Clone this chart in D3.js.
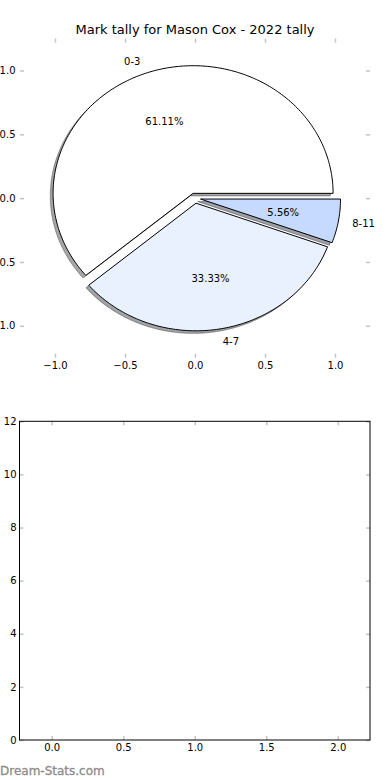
<!DOCTYPE html>
<html>
<head>
<meta charset="utf-8">
<script src="https://cdn.jsdelivr.net/npm/d3@7/dist/d3.min.js"></script>
<style>
  html, body { margin: 0; padding: 0; background: #ffffff; }
  svg { display: block; }
  text { font-family: "DejaVu Sans", sans-serif; }
</style>
</head>
<body>
<script>
// ---------- data ----------
const categories = ["0-3", "4-7", "8-11"];
const values = [11, 6, 1];
const pieTicks = [-1.0, -0.5, 0.0, 0.5, 1.0];
const barXTicks = [0.0, 0.5, 1.0, 1.5, 2.0];
const barYTicks = [0, 2, 4, 6, 8, 10, 12];
const titleText = "Mark tally for Mason Cox - 2022 tally";
const watermark = "Dream-Stats.com";

// ---------- styles ----------
const sliceColors = ["#ffffff", "#eaf1fe", "#c6d9fe"];
const explode = [0.04, 0.04, 0.04];
const tickColor = "#c4c4c4";

const W = 390, H = 780;
const svg = d3.select("body").append("svg").attr("width", W).attr("height", H);

// ---------- pie panel ----------
const px = d3.scaleLinear().domain([-1.25, 1.25]).range([20, 370]);
const py = d3.scaleLinear().domain([-1.25, 1.25]).range([357.7, 38.6]);

svg.append("text")
  .attr("x", 195).attr("y", 34)
  .attr("text-anchor", "middle")
  .attr("font-size", 13)
  .attr("fill", "#000")
  .text(titleText);

const fmt1 = d3.format(".1f");
function styleAxis(g) {
  g.select(".domain").remove();
  g.selectAll(".tick line").attr("stroke", tickColor).attr("stroke-width", 1.5);
  g.selectAll(".tick text").attr("font-size", 10).attr("fill", "#000")
    .attr("font-family", "DejaVu Sans, sans-serif");
}
// bottom (labels) - ticks inward
svg.append("g").attr("transform", `translate(0,${py(-1.25)})`)
  .call(d3.axisBottom(px).tickValues(pieTicks).tickFormat(fmt1).tickSizeInner(-4).tickSizeOuter(0).tickPadding(4))
  .call(styleAxis);
svg.append("g").attr("transform", `translate(0,${py(1.25)})`)
  .call(d3.axisTop(px).tickValues(pieTicks).tickFormat("").tickSizeInner(-4).tickSizeOuter(0))
  .call(styleAxis);
svg.append("g").attr("transform", `translate(${px(-1.25)},0)`)
  .call(d3.axisLeft(py).tickValues(pieTicks).tickFormat(fmt1).tickSizeInner(-4).tickSizeOuter(0).tickPadding(4.5))
  .call(styleAxis);
svg.append("g").attr("transform", `translate(${px(1.25)},0)`)
  .call(d3.axisRight(py).tickValues(pieTicks).tickFormat("").tickSizeInner(-4).tickSizeOuter(0))
  .call(styleAxis);

// pie angles: start at east, counter-clockwise (matplotlib style)
const pieGen = d3.pie().sort(null).startAngle(Math.PI / 2).endAngle(Math.PI / 2 - 2 * Math.PI);
const arcs = pieGen(values).map((d, i) => {
  const t1 = Math.PI / 2 - d.startAngle;
  const t2 = Math.PI / 2 - d.endAngle;
  const mid = (t1 + t2) / 2;
  return { i, t1, t2, mid, ox: explode[i] * Math.cos(mid), oy: explode[i] * Math.sin(mid), value: d.value };
});
const total = d3.sum(values);

const line = d3.line().x(p => px(p[0])).y(p => py(p[1]));
function wedgePts(a, dx, dy) {
  const cx = a.ox + dx, cy = a.oy + dy;
  const n = Math.max(8, Math.ceil((a.t2 - a.t1) / (Math.PI / 180)));
  const pts = [[cx, cy]];
  for (let k = 0; k <= n; k++) {
    const t = a.t1 + (a.t2 - a.t1) * k / n;
    pts.push([cx + Math.cos(t), cy + Math.sin(t)]);
  }
  pts.push([cx, cy]);
  return pts;
}
function shadowColor(hex) {
  const c = d3.rgb(hex);
  return `rgba(${Math.round(c.r * 0.3)},${Math.round(c.g * 0.3)},${Math.round(c.b * 0.3)},0.5)`;
}

// shadows below all wedges
svg.append("g").selectAll("path").data(arcs).join("path")
  .attr("d", a => line(wedgePts(a, -0.02, -0.02)) + "Z")
  .attr("fill", a => shadowColor(sliceColors[a.i]))
  .attr("stroke", a => shadowColor(sliceColors[a.i]))
  .attr("stroke-width", 1)
  .attr("stroke-linejoin", "miter");

svg.append("g").selectAll("path").data(arcs).join("path")
  .attr("d", a => line(wedgePts(a, 0, 0)) + "Z")
  .attr("fill", a => sliceColors[a.i])
  .attr("stroke", "#000")
  .attr("stroke-width", 1)
  .attr("stroke-linejoin", "miter");

// outer labels
svg.append("g").selectAll("text").data(arcs).join("text")
  .attr("x", a => px(a.ox + 1.1 * Math.cos(a.mid)))
  .attr("y", a => py(a.oy + 1.1 * Math.sin(a.mid)))
  .attr("dy", "0.35em")
  .attr("text-anchor", a => Math.cos(a.mid) > 0 ? "start" : "end")
  .attr("font-size", 10)
  .text(a => categories[a.i]);

// percentage labels
const pct = d3.format(".2f");
svg.append("g").selectAll("text").data(arcs).join("text")
  .attr("x", a => px(a.ox + 0.6 * Math.cos(a.mid)))
  .attr("y", a => py(a.oy + 0.6 * Math.sin(a.mid)))
  .attr("dy", "0.35em")
  .attr("text-anchor", "middle")
  .attr("font-size", 10)
  .text(a => pct(100 * a.value / total) + "%");

// ---------- empty bar panel ----------
const bx = d3.scaleLinear().domain([-0.225, 2.225]).range([19.5, 370]);
const by = d3.scaleLinear().domain([0, 12]).range([740, 421.3]);

svg.append("g").attr("transform", `translate(0,${by(0)})`)
  .call(d3.axisBottom(bx).tickValues(barXTicks).tickFormat(fmt1).tickSizeInner(-4).tickSizeOuter(0).tickPadding(4))
  .call(styleAxis);
svg.append("g").attr("transform", `translate(0,${by(12)})`)
  .call(d3.axisTop(bx).tickValues(barXTicks).tickFormat("").tickSizeInner(-4).tickSizeOuter(0))
  .call(styleAxis);
svg.append("g").attr("transform", `translate(${bx(-0.225)},0)`)
  .call(d3.axisLeft(by).tickValues(barYTicks).tickFormat(d3.format("d")).tickSizeInner(-4).tickSizeOuter(0).tickPadding(3))
  .call(styleAxis);
svg.append("g").attr("transform", `translate(${bx(2.225)},0)`)
  .call(d3.axisRight(by).tickValues(barYTicks).tickFormat("").tickSizeInner(-4).tickSizeOuter(0))
  .call(styleAxis);

svg.append("rect")
  .attr("x", bx(-0.225)).attr("y", by(12))
  .attr("width", bx(2.225) - bx(-0.225)).attr("height", by(0) - by(12))
  .attr("fill", "none").attr("stroke", "#000").attr("stroke-width", 1);

// watermark
svg.append("text")
  .attr("x", 0).attr("y", 775)
  .attr("font-size", 12)
  .attr("fill", "#8c8c8c")
  .attr("stroke", "#8c8c8c")
  .attr("stroke-width", 0.3)
  .text(watermark);
</script>
</body>
</html>
